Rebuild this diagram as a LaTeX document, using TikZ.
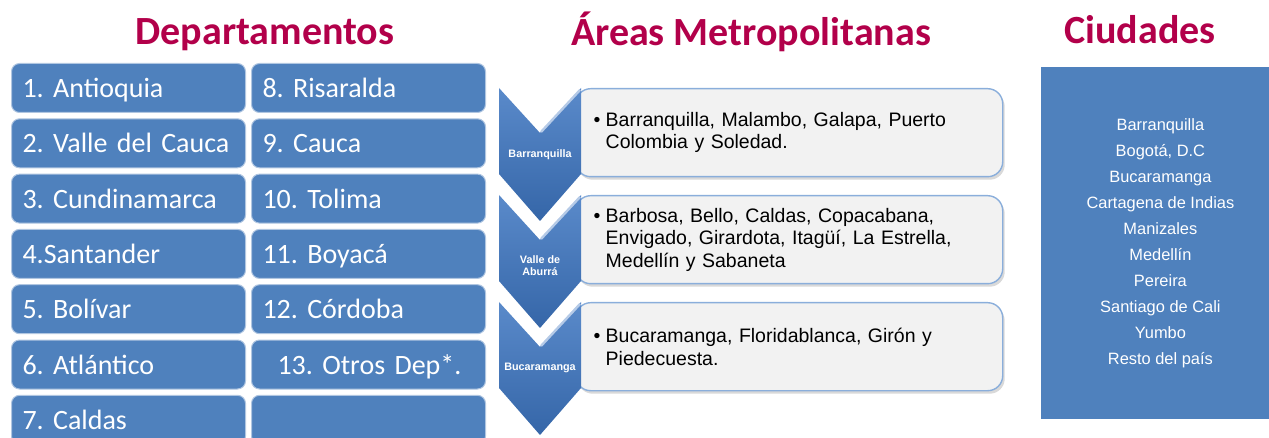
\documentclass[tikz,border=0pt]{standalone}
\usepackage{fontspec}
\setmainfont{Liberation Sans}
\newfontfamily\calibri{Carlito}
\usetikzlibrary{shadows}

\definecolor{titlered}{HTML}{B2004A}
\definecolor{boxblue}{HTML}{4F81BD}
\definecolor{chevtop}{HTML}{5A8ACA}
\definecolor{chevbot}{HTML}{3566A8}
\definecolor{panelgray}{HTML}{F2F2F2}
\definecolor{panelline}{HTML}{8AAEDB}

\begin{document}
\frenchspacing
\begin{tikzpicture}[x=0.5pt,y=-0.5pt,
    title/.style={font=\calibri\bfseries\fontsize{20}{24}\selectfont, text=titlered, anchor=base},
    dep/.style={fill=boxblue, draw=white!55!boxblue, line width=0.5pt, rounded corners=4pt,
        anchor=north west, minimum width=117pt, minimum height=24.5pt,
        text width=117pt, inner xsep=0pt, align=left, text=white,
        text height=10pt, text depth=0.5pt,
        execute at begin node={\hspace*{5.5pt}},
        font=\calibri\fontsize{14}{17}\selectfont},
    panel/.style={fill=panelgray, draw=panelline, line width=0.7pt, rounded corners=7.5pt,
        anchor=north west, minimum width=213.5pt, minimum height=44pt,
        text width=195.5pt, inner xsep=9pt, align=left,
        font=\fontsize{9.75}{11.25}\selectfont,
        drop shadow={shadow xshift=1pt, shadow yshift=-1.5pt, opacity=0.3}},
    chev/.style={top color=chevtop, bottom color=chevbot},
    glint/.style={draw=white!55!chevtop, line width=1.2pt},
    chevlabel/.style={text=white, font=\bfseries\fontsize{5.4}{6}\selectfont, align=center, inner sep=0pt},
    cities/.style={fill=boxblue, anchor=north west, minimum width=119pt, minimum height=176pt,
        align=center, text=white, font=\fontsize{8.2}{13}\selectfont}
]
\useasboundingbox (0,0) rectangle (1269,438);

% titles
\node[title] (deptitle) at (265,45) {Departamentos};
\node[title] (areatitle) at (751,46) {Áreas Metropolitanas};
\node[title] (citytitle) at (1140,44) {Ciudades};

% departamentos
\node[dep] (d1) at (11,63) {1. Antioquia};
\node[dep] (d2) at (11,118.3) {2. Valle del Cauca};
\node[dep] (d3) at (11,173.6) {3. Cundinamarca};
\node[dep] (d4) at (11,228.9) {4.Santander};
\node[dep] (d5) at (11,284.2) {5. Bolívar};
\node[dep] (d6) at (11,339.5) {6. Atlántico};
\node[dep] (d7) at (11,394.8) {7. Caldas};
\node[dep] (d8) at (251,63) {8. Risaralda};
\node[dep] (d9) at (251,118.3) {9. Cauca};
\node[dep] (d10) at (251,173.6) {10. Tolima};
\node[dep] (d11) at (251,228.9) {11. Boyacá};
\node[dep] (d12) at (251,284.2) {12. Córdoba};
\node[dep] (d13) at (251,339.5) {\hspace*{7.5pt}13. Otros Dep*.};
\node[dep] (d14) at (251,394.8) {};

% areas metropolitanas
\node[panel] (p1) at (575,88) {\makebox[6pt][l]{\textbullet}Barranquilla, Malambo, Galapa, Puerto\\
    \hspace*{6pt}Colombia y Soledad.};
\node[panel] (p2) at (575,195) {\makebox[6pt][l]{\textbullet}Barbosa, Bello, Caldas, Copacabana,\\
    \hspace*{6pt}Envigado, Girardota, Itagüí, La Estrella,\\
    \hspace*{6pt}Medellín y Sabaneta};
\node[panel] (p3) at (575,302) {\makebox[6pt][l]{\textbullet}Bucaramanga, Floridablanca, Girón y\\
    \hspace*{6pt}Piedecuesta.};

\path[chev] (499,88) -- ++(41,45) -- ++(41,-45) -- ++(0,86) -- ++(-41,47) -- ++(-41,-47) -- cycle;
\path[chev] (499,195) -- ++(41,45) -- ++(41,-45) -- ++(0,86) -- ++(-41,47) -- ++(-41,-47) -- cycle;
\path[chev] (499,302) -- ++(41,45) -- ++(41,-45) -- ++(0,86) -- ++(-41,47) -- ++(-41,-47) -- cycle;
\draw[glint] (541,132) -- (580,90);
\draw[glint] (541,239) -- (580,197);
\draw[glint] (541,346) -- (580,304);

\node[chevlabel] (a1) at (540,155) {Barranquilla};
\node[chevlabel] (a2) at (540,266) {Valle de\\Aburrá};
\node[chevlabel] (a3) at (540,368) {Bucaramanga};

% ciudades
\node[cities] (cities) at (1041,67) {Barranquilla\\Bogotá, D.C\\Bucaramanga\\Cartagena de Indias\\Manizales\\
    Medellín\\Pereira\\Santiago de Cali\\Yumbo\\Resto del país};
\end{tikzpicture}
\end{document}
